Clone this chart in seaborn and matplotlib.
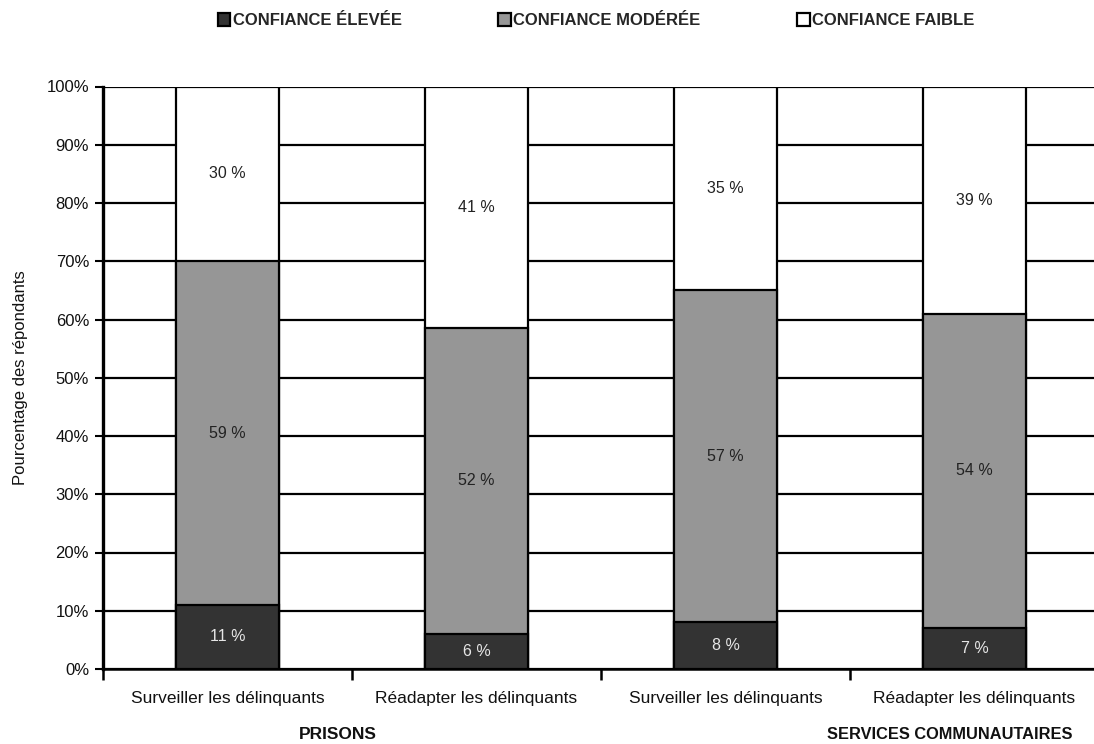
import numpy as np
import pandas as pd
import matplotlib
matplotlib.use("Agg")
import matplotlib.pyplot as plt
import seaborn as sns
from matplotlib.patches import Patch

# Survey data: confidence in each institution, by mandate
groups = ["PRISONS", "SERVICES COMMUNAUTAIRES"]
tasks = ["Surveiller les délinquants", "Réadapter les délinquants",
         "Surveiller les délinquants", "Réadapter les délinquants"]
levels = ["CONFIANCE ÉLEVÉE", "CONFIANCE MODÉRÉE", "CONFIANCE FAIBLE"]
high = [11, 6, 8, 7]
moderate = [59, 52, 57, 54]
low = [30, 41, 35, 39]

colors = ["#333333", "#969696", "#ffffff"]
narrow = ["Liberation Sans Narrow", "Liberation Sans", "DejaVu Sans"]
wide = ["Liberation Sans", "DejaVu Sans"]

sns.set_theme(style="white")
plt.rcParams["font.family"] = narrow

df = pd.DataFrame({"pos": range(len(tasks)), "task": tasks,
                   "high": high, "moderate": moderate, "low": low})
total = df[["high", "moderate", "low"]].sum(axis=1)
# 100 % stacked: each bar is scaled to its own total
for c in ["high", "moderate", "low"]:
    df[c + "_pct"] = df[c] / total * 100
df["cum_high"] = df["high_pct"]
df["cum_mod"] = df["high_pct"] + df["moderate_pct"]
df["cum_all"] = df["cum_mod"] + df["low_pct"]

fig = plt.figure(figsize=(10.94, 7.44), dpi=100)
ax = fig.add_axes([103 / 1094, 75 / 744, 996 / 1094, 582.5 / 744])

bar_w = 0.41
for col, colr in zip(["cum_all", "cum_mod", "cum_high"], colors[::-1]):
    sns.barplot(data=df, x="pos", y=col, color=colr, width=bar_w,
                edgecolor="black", linewidth=1.6, saturation=1,
                ax=ax, zorder=3, errorbar=None)

# segment labels
for i, row in df.iterrows():
    segs = [(0, row["cum_high"], row["high"], "#e6e6e6"),
            (row["cum_high"], row["cum_mod"], row["moderate"], "#222222"),
            (row["cum_mod"], row["cum_all"], row["low"], "#222222")]
    for lo, hi, val, tc in segs:
        ax.text(i, (lo + hi) / 2, f"{val} %", ha="center", va="center",
                fontsize=11.5, color=tc, zorder=5, family=narrow)

ax.set_ylim(0, 100)
ax.set_xlim(-0.5, len(tasks) - 0.5)
ax.set_yticks(np.arange(0, 101, 10))
ax.set_yticklabels([f"{v}%" for v in range(0, 101, 10)], fontsize=12,
                   family=narrow, color="#111111")
ax.yaxis.grid(True, color="black", linewidth=1.6, zorder=0)
ax.set_axisbelow(True)

# x ticks at category boundaries, labels at category centres
ax.set_xticks(np.arange(-0.5, len(tasks), 1.0))
ax.set_xticklabels([])
ax.set_xticks(np.arange(len(tasks)), minor=True)
ax.set_xticklabels(tasks, minor=True, fontsize=12.5, family=narrow,
                   color="#111111")
ax.tick_params(axis="x", which="major", direction="out", length=8,
               width=1.8, color="black", bottom=True)
ax.tick_params(axis="x", which="minor", length=0, pad=16)
ax.tick_params(axis="y", direction="out", length=6, width=1.5,
               color="black", left=True, pad=4)
ax.set_xlabel("")
ax.set_ylabel("Pourcentage des répondants", fontsize=12, family=narrow,
              color="#111111", labelpad=13)

for s in ["top", "right"]:
    ax.spines[s].set_visible(False)
ax.spines["left"].set_linewidth(2.4)
ax.spines["left"].set_color("black")
ax.spines["bottom"].set_linewidth(1.8)
ax.spines["bottom"].set_color("black")

# group labels below the task labels
ax.text(0.445, -0.112, groups[0], transform=ax.get_xaxis_transform(),
        ha="center", va="center", fontsize=12.5, fontweight="bold",
        family=wide, color="#111111")
ax.text(2.9, -0.112, groups[1], transform=ax.get_xaxis_transform(),
        ha="center", va="center", fontsize=11.8, fontweight="bold",
        family=wide, color="#111111")

handles = [Patch(facecolor=c, edgecolor="black", linewidth=1.6) for c in colors]
fig.legend(handles, levels, loc="center", bbox_to_anchor=(0.545, 0.972),
           ncol=3, frameon=False, handlelength=0.75, handleheight=0.75,
           handletextpad=0.15, columnspacing=5.8,
           prop={"family": narrow, "weight": "bold", "size": 12})

fig.savefig("out.png", dpi=100)
